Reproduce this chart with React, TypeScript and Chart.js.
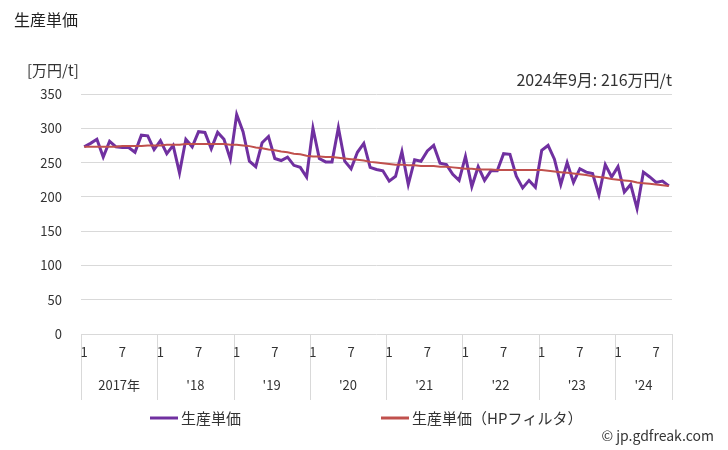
import React, { useEffect, useRef } from 'react';
import { Chart, registerables } from 'chart.js';

Chart.register(...registerables);

const FONT = '"Noto Sans CJK JP", "Noto Sans", sans-serif';

const years = [2017, 2018, 2019, 2020, 2021, 2022, 2023, 2024];
const yearLabels = ['2017年', "'18", "'19", "'20", "'21", "'22", "'23", "'24"];
const lastMonth = 9;

const unitPrice = [
  273, 278, 284, 258, 281, 273, 272, 272, 265, 290, 289, 269,
  282, 263, 275, 235, 284, 273, 295, 294, 270, 294, 284, 255,
  320, 295, 252, 244, 279, 288, 256, 253, 258, 246, 243, 229,
  300, 256, 251, 251, 301, 252, 241, 265, 278, 243, 240, 238,
  223, 230, 266, 218, 254, 252, 267, 275, 249, 247, 233, 224,
  259, 215, 244, 224, 238, 238, 263, 262, 230, 213, 224, 214,
  268, 275, 255, 218, 250, 221, 241, 236, 234, 203, 247, 229,
  244, 207, 218, 183, 236, 229, 221, 223, 216,
];

const hpTrend = [
  273, 273, 273, 273, 273, 273, 274, 274, 274, 274, 275, 275,
  275, 276, 276, 276, 277, 277, 277, 277, 277, 277, 277, 276,
  276, 275, 274, 272, 271, 269, 268, 266, 265, 263, 262, 260,
  259, 259, 258, 258, 257, 256, 255, 254, 253, 251, 250, 249,
  248, 247, 247, 246, 246, 245, 245, 245, 244, 244, 243, 242,
  241, 241, 240, 240, 240, 239, 239, 239, 239, 239, 239, 239,
  239, 238, 237, 236, 235, 234, 233, 232, 230, 229, 228, 226,
  225, 224, 223, 221, 220, 219, 218, 217, 216,
];

const yTicks = [0, 50, 100, 150, 200, 250, 300, 350];
const shownMonths = [1, 7];

const categories: string[] = [];
years.forEach((y) => {
  const end = y === years[years.length - 1] ? lastMonth : 12;
  for (let m = 1; m <= end; m++) categories.push(`${y}/${m}`);
});

const titleText = '生産単価';
const unitText = '[万円/t]';
const noteText = '2024年9月: 216万円/t';
const creditText = '© jp.gdfreak.com';

const decorPlugin = {
  id: 'decor',
  afterDraw(chart: any) {
    const ctx = chart.ctx;
    const xs = chart.scales.x;
    const area = chart.chartArea;
    const slot = xs.getPixelForValue(1) - xs.getPixelForValue(0);
    ctx.save();
    // year separators
    const bounds: number[] = [];
    years.forEach((_, i) => bounds.push(i * 12));
    bounds.push(categories.length);
    ctx.strokeStyle = '#d9d9d9';
    ctx.lineWidth = 1;
    bounds.forEach((b) => {
      const x = Math.round(xs.getPixelForValue(0) + slot * (b - 0.5)) + 0.5;
      ctx.beginPath();
      ctx.moveTo(x, area.bottom);
      ctx.lineTo(x, area.bottom + 66);
      ctx.stroke();
    });
    // month labels
    ctx.fillStyle = '#333';
    ctx.font = `13px ${FONT}`;
    ctx.textAlign = 'center';
    ctx.textBaseline = 'middle';
    categories.forEach((c, i) => {
      const m = Number(c.split('/')[1]);
      if (shownMonths.includes(m)) ctx.fillText(String(m), xs.getPixelForValue(i), area.bottom + 18);
    });
    // year labels
    yearLabels.forEach((lab, i) => {
      const s = bounds[i];
      const e = bounds[i + 1];
      const x = xs.getPixelForValue(0) + slot * ((s + e) / 2 - 0.5);
      ctx.fillText(lab, x, area.bottom + 51);
    });
    // title, unit, note
    ctx.textAlign = 'left';
    ctx.font = `16px ${FONT}`;
    ctx.fillStyle = '#222';
    ctx.fillText(titleText, 14, 20);
    ctx.font = `15px ${FONT}`;
    ctx.fillStyle = '#333';
    ctx.fillText(unitText, 27, 70);
    ctx.textAlign = 'right';
    ctx.font = `16px ${FONT}`;
    ctx.fillText(noteText, 672, 80);
    // legend
    const ds = chart.data.datasets;
    const legendX = [150, 381];
    ctx.textAlign = 'left';
    ctx.font = `15px ${FONT}`;
    ds.forEach((d: any, i: number) => {
      const x0 = legendX[i];
      ctx.strokeStyle = d.borderColor;
      ctx.lineWidth = 3;
      ctx.beginPath();
      ctx.moveTo(x0, 418);
      ctx.lineTo(x0 + 28, 418);
      ctx.stroke();
      ctx.fillStyle = '#333';
      ctx.fillText(d.label, x0 + 31, 418);
    });
    // credit
    ctx.textAlign = 'right';
    ctx.font = `14px ${FONT}`;
    ctx.fillText(creditText, 714, 436);
    ctx.restore();
  },
};

export default function App() {
  const ref = useRef<HTMLCanvasElement>(null);
  useEffect(() => {
    if (!ref.current) return;
    const chart = new Chart(ref.current, {
      type: 'line',
      data: {
        labels: categories,
        datasets: [
          {
            label: '生産単価',
            data: unitPrice,
            borderColor: '#7030a0',
            backgroundColor: '#7030a0',
            borderWidth: 3,
            pointRadius: 0,
            tension: 0,
            order: 1,
          },
          {
            label: '生産単価（HPフィルタ）',
            data: hpTrend,
            borderColor: '#c0504d',
            backgroundColor: '#c0504d',
            borderWidth: 2,
            pointRadius: 0,
            tension: 0,
            order: 0,
          },
        ],
      },
      options: {
        animation: false,
        responsive: false,
        maintainAspectRatio: false,
        layout: { padding: { left: 0, top: 94, right: 56, bottom: 96 } },
        plugins: { legend: { display: false }, tooltip: { enabled: false }, title: { display: false } },
        scales: {
          x: {
            type: 'category',
            offset: true,
            grid: { display: false },
            border: { display: false },
            ticks: { display: false },
            afterFit: (s: any) => {
              s.height = 20;
            },
          },
          y: {
            min: yTicks[0],
            max: yTicks[yTicks.length - 1],
            afterBuildTicks: (s: any) => {
              s.ticks = yTicks.map((v) => ({ value: v }));
            },
            grid: { color: '#d9d9d9', drawTicks: false, lineWidth: 1 },
            border: { display: false },
            ticks: {
              padding: 19,
              color: '#333',
              font: { size: 13, family: FONT },
            },
            afterFit: (s: any) => {
              s.width = 81;
            },
          },
        },
      },
      plugins: [decorPlugin],
    } as any);
    return () => chart.destroy();
  }, []);
  return (
    <div style={{ position: 'absolute', left: 0, top: 0, width: 728, height: 450, background: '#fff' }}>
      <canvas ref={ref} width={728} height={450} style={{ width: 728, height: 450 }} />
    </div>
  );
}
